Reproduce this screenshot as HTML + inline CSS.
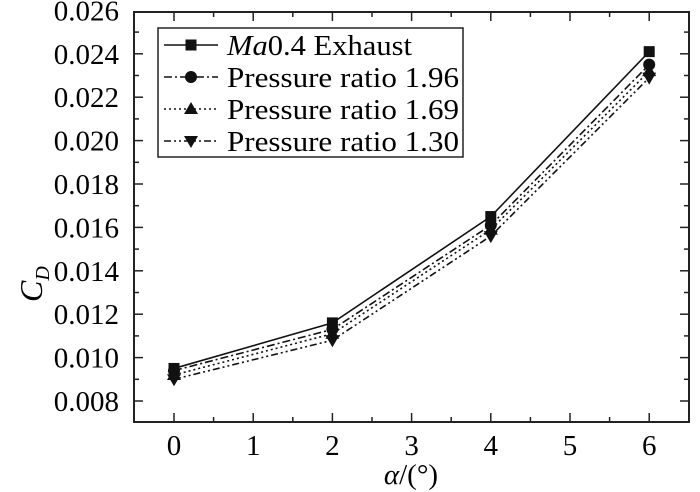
<!DOCTYPE html>
<html><head><meta charset="utf-8"><style>
html,body{margin:0;padding:0;background:#fff;}
svg{display:block;}
text{font-family:"Liberation Serif","Times New Roman",serif;}
</style></head><body>
<svg width="700" height="492" viewBox="0 0 700 492" xmlns="http://www.w3.org/2000/svg" font-family="Liberation Serif, serif">
<rect x="134" y="12" width="555" height="410" fill="none" stroke="#222" stroke-width="2"/>
<g stroke="#222" stroke-width="1.5" id="ticks">
</g>
<script>
(function(){
var svg=document.currentScript.parentNode, ns="http://www.w3.org/2000/svg";
function el(t,a,p){var e=document.createElementNS(ns,t);for(var k in a)e.setAttribute(k,a[k]);(p||svg).appendChild(e);return e;}
var g=document.getElementById('ticks');
function X(a){return 174+79.2*a;}
function Y(v){return 401-(v-0.008)/0.002*43.4;}
for(var i=0;i<=13;i++){var a=i*0.5,x=X(a),L=(i%2==0)?9:5;
 if(x>689)continue;
 el('line',{x1:x,y1:422,x2:x,y2:422-L},g);el('line',{x1:x,y1:12,x2:x,y2:12+L},g);
 if(i%2==0&&a<=6){var t=el('text',{x:x,y:455,'font-size':29,'text-anchor':'middle'});t.textContent=a;}}
for(var j=0;j<=19;j++){var v=0.007+j*0.001,y=Y(v);if(y<8||y>422)continue;var L=(j%2==1)?9:5;
 if(y>=12){el('line',{x1:134,y1:y,x2:134+L,y2:y},g);el('line',{x1:689,y1:y,x2:689-L,y2:y},g);}
 if(j%2==1){var t=el('text',{x:119,y:y+10,'font-size':29,'text-anchor':'end'});t.textContent=v.toFixed(3);}}
var data=[[0.0095,0.0116,0.0165,0.0241],[0.0094,0.0113,0.0161,0.0235],[0.0092,0.0111,0.0159,0.0232],[0.0090,0.0108,0.0156,0.0229]];
var dash=['none','8 3 2 3','2 3','7 3 2 3 2 3'];
function mk(k,x,y){
 if(k==0)el('rect',{x:x-5.5,y:y-5.5,width:11,height:11,fill:'#111'});
 else if(k==1)el('circle',{cx:x,cy:y,r:6,fill:'#111'});
 else if(k==2)el('path',{d:'M'+x+' '+(y-7)+'L'+(x+7)+' '+(y+5)+'L'+(x-7)+' '+(y+5)+'Z',fill:'#111'});
 else el('path',{d:'M'+x+' '+(y+7)+'L'+(x+7)+' '+(y-5)+'L'+(x-7)+' '+(y-5)+'Z',fill:'#111'});}
for(var k=0;k<4;k++){var p=data[k].map(function(v,i){return X(2*i)+','+Y(v);}).join(' ');
 el('polyline',{points:p,fill:'none',stroke:'#111','stroke-width':1.6,'stroke-dasharray':dash[k]});
 data[k].forEach(function(v,i){mk(k,X(2*i),Y(v));});}
el('rect',{x:158,y:28,width:305,height:129,fill:'#fff',stroke:'#222','stroke-width':1.5});
var labels=['Ma0.4 Exhaust','Pressure ratio 1.96','Pressure ratio 1.69','Pressure ratio 1.30'];
for(var k=0;k<4;k++){var y=45+32*k;
 el('line',{x1:164,y1:y,x2:218,y2:y,stroke:'#111','stroke-width':1.6,'stroke-dasharray':dash[k]});mk(k,191,y);
 var t=el('text',{x:227,y:y+10,'font-size':28.5,textLength:232,lengthAdjust:'spacingAndGlyphs'});
 if(k==0){t.setAttribute('textLength',185);var s=el('tspan',{'font-style':'italic'},t);s.textContent='Ma';var s2=el('tspan',{},t);s2.textContent='0.4 Exhaust';}
 else t.textContent=labels[k];}
})();
</script>
<text x="0" y="0" font-size="32" transform="translate(42,302) rotate(-90)"><tspan font-style="italic">C</tspan><tspan font-style="italic" font-size="20" dy="7">D</tspan></text>
<text x="411" y="484" font-size="29" text-anchor="middle"><tspan font-style="italic">α</tspan>/(°)</text>
</svg>
</body></html>
